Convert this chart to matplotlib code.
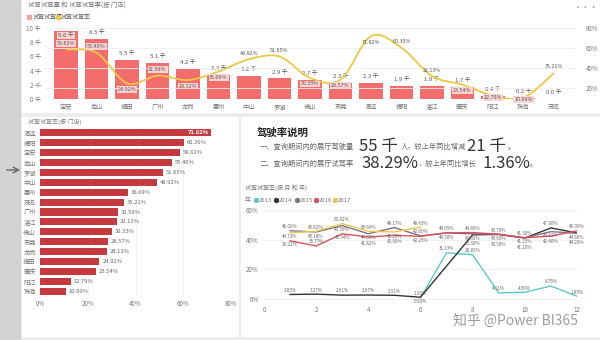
import matplotlib
matplotlib.use("Agg")
import matplotlib.pyplot as plt
from matplotlib.path import Path
from matplotlib.patches import PathPatch, Rectangle

plt.rcParams['font.family'] = ['Noto Sans CJK SC', 'DejaVu Sans']

# ---- data ----
stores = ['宝安', '南山', '福田', '广州', '龙岗', '惠州', '中山', '罗湖', '佛山',
          '东莞', '清远', '揭阳', '湛江', '肇庆', '阳江', '珠海', '茂名']
drive_volume = [9.6, 8.5, 5.5, 5.1, 4.2, 3.4, 3.2, 2.9, 2.7, 2.3, 2.3, 1.9, 1.8, 1.7, 0.4, 0.2, 0.0]
drive_rate = [58.62, 55.40, 24.92, 32.59, 28.12, 36.69, 48.92, 51.65, 30.33,
              28.57, 71.82, 60.30, 32.13, 23.54, 12.79, 10.69, 35.21]

months = list(range(1, 13))
rate_2013 = [None, None, None, None, None, 0.9, 31.13, 29.85, 4.11, 4.56, 8.75, 1.85]
rate_2014 = [3.05, 3.27, 2.61, 2.67, 2.51, 1.20, None, 43.30, 43.50, 41.10, 47.90, 44.56]
rate_2015 = [46.00, 45.18, 49.50, 44.00, 48.17, 42.60, 44.50, 43.92, 43.70, 41.23, 45.41, 44.29]
rate_2016 = [39.22, 35.77, 43.94, 41.82, 42.90, 42.25, 44.65, 44.80, 43.60, 41.30, 42.40, 46.00]
rate_2017 = [44.73, 45.62, 50.82, 45.66, 45.20, 48.43, None, None, None, None, None, None]
years = ['2013', '2014', '2015', '2016', '2017']

# label side for the rate labels in the top chart (+1 above, -1 below)
rate_label_side = [1, 1, -1, 1, -1, -1, 1, 1, -1, -1, -1, 1, 1, -1, -0.3, -0.3, 1]

W, H = 600, 340
fig = plt.figure(figsize=(6, 3.4), dpi=100)
fig.patch.set_facecolor('#ECECEC')


def px(x0, y0, x1, y1):
    return [x0 / W, 1 - y1 / H, (x1 - x0) / W, (y1 - y0) / H]


# background panels
bg = fig.add_axes([0, 0, 1, 1])
bg.set_xlim(0, W)
bg.set_ylim(H, 0)
bg.axis('off')
bg.add_patch(Rectangle((0, 0), 20, H, color='#D2D2D2'))
bg.add_patch(Rectangle((22, 0), 578, 112, color='white'))
bg.add_patch(Rectangle((22, 117), 216, 219, color='white'))
bg.add_patch(Rectangle((241, 117), 359, 219, color='white'))
bg.annotate('', xy=(23, 170), xytext=(4, 170),
            arrowprops=dict(arrowstyle='->', color='#666666', lw=1.0))

grey = '#777777'
salmon = '#F36D6D'
yellow = '#EDC843'
pink_box = dict(boxstyle='square,pad=0.15', fc='#FBD3D3', ec='none')

# ---- top combo chart ----
ax = fig.add_axes(px(45, 22, 575, 99))
ax.set_facecolor('none')
x = list(range(len(stores)))
ax.bar(x, drive_volume, width=0.76, color=salmon, zorder=2)
ax.set_xlim(-0.69, len(stores) - 0.31)
ax.set_ylim(0, 10.85)
ax.set_yticks([0, 2, 4, 6, 8, 10])
ax.set_yticklabels([f'{v} 千' for v in [0, 2, 4, 6, 8, 10]])
ax.set_xticks(x)
ax.set_xticklabels(stores)
ax.tick_params(length=0, labelsize=4.5, colors=grey, pad=3)
for s in ax.spines.values():
    s.set_visible(False)
for i, v in enumerate(drive_volume):
    if v > 9:
        ax.text(i, v - 0.7, f'{v} 千', ha='center', va='center', fontsize=4.3,
                color='#555555', bbox=pink_box, zorder=5)
    else:
        ax.text(i, v + 0.9, f'{v} 千', ha='center', va='center', fontsize=4.3,
                color='#555555', zorder=5)

ax2 = ax.twinx()
ax2.set_ylim(9.3, 86.0)
ax2.set_yticks([20, 40, 60, 80])
ax2.set_yticklabels(['20%', '40%', '60%', '80%'])
ax2.tick_params(length=0, labelsize=4.5, colors=grey, pad=8)
ax2.grid(axis='y', color='#EFEFEF', lw=0.6, zorder=0)
ax2.set_axisbelow(True)
for s in ax2.spines.values():
    s.set_visible(False)


def smooth_path(xs, ys, t=1 / 6):
    verts = [(xs[0], ys[0])]
    codes = [Path.MOVETO]
    n = len(xs)
    for i in range(n - 1):
        p0 = i - 1 if i > 0 else i
        p3 = i + 2 if i + 2 < n else i + 1
        c1 = (xs[i] + (xs[i + 1] - xs[p0]) * t, ys[i] + (ys[i + 1] - ys[p0]) * t)
        c2 = (xs[i + 1] - (xs[p3] - xs[i]) * t, ys[i + 1] - (ys[p3] - ys[i]) * t)
        verts += [c1, c2, (xs[i + 1], ys[i + 1])]
        codes += [Path.CURVE4] * 3
    return Path(verts, codes)


ax2.add_patch(PathPatch(smooth_path(x, drive_rate), fill=False, ec=yellow, lw=1.3, zorder=3))
for i, r in enumerate(drive_rate):
    ly = r + rate_label_side[i] * 6
    on_bar = (ly - 9.3) / 7.07 < drive_volume[i]
    ax2.text(i, ly, f'{r:.2f}%', ha='center', va='center', fontsize=3.9,
             color='#555555', bbox=pink_box if on_bar else None, zorder=6)

# ---- bottom-left bar chart ----
order = sorted(range(len(stores)), key=lambda k: -drive_rate[k])
sorted_names = [stores[k] for k in order]
sorted_rates = [drive_rate[k] for k in order]

bx = fig.add_axes(px(40, 128, 231, 296))
bx.set_facecolor('none')
y = list(range(len(sorted_names)))
bx.barh(y, sorted_rates, height=0.72, color='#C53A3E', zorder=2)
bx.set_ylim(len(sorted_names) - 0.5, -0.5)
bx.set_xlim(0, 80)
bx.set_xticks([0, 20, 40, 60, 80])
bx.set_xticklabels(['0%', '20%', '40%', '60%', '80%'])
bx.set_yticks(y)
bx.set_yticklabels(sorted_names)
bx.tick_params(length=0, labelsize=4.5, colors=grey, pad=3)
bx.grid(axis='x', color='#EFEFEF', lw=0.6, zorder=0)
bx.set_axisbelow(True)
for s in bx.spines.values():
    s.set_visible(False)
for i, r in enumerate(sorted_rates):
    if i == 0:
        bx.text(r - 1.2, i, f'{r:.2f}%', ha='right', va='center', fontsize=4.2,
                color='white', fontweight='bold')
    else:
        bx.text(r + 1.2, i, f'{r:.2f}%', ha='left', va='center', fontsize=4.2, color='#666666')

# ---- bottom-right line chart ----
lx = fig.add_axes(px(264, 208, 577, 300))
lx.set_facecolor('none')
series = [rate_2013, rate_2014, rate_2015, rate_2016, rate_2017]
colors = ['#5CC8C6', '#333333', '#86708A', '#D9505E', '#E9C84A']
for vals, c in zip(series, colors):
    mx = [m for m, v in zip(months, vals) if v is not None]
    my = [v for v in vals if v is not None]
    lx.plot(mx, my, color=c, lw=1.0, zorder=3)

# stack the point labels of each month so they do not sit on each other
gap = 3.8
for k, m in enumerate(months):
    vals = sorted([s[k] for s in series if s[k] is not None], reverse=True)
    prev = None
    for v in vals:
        ly = v + 2.8
        if prev is not None and prev - ly < gap:
            ly = min(v - 2.8, prev - gap)
        lx.text(m, ly, f'{v:.2f}%', ha='center', va='center', fontsize=3.3,
                color='#666666', zorder=5)
        prev = ly
lx.set_xlim(0, 12)
lx.set_ylim(-0.67, 61.35)
lx.set_xticks([0, 2, 4, 6, 8, 10, 12])
lx.set_yticks([0, 20, 40, 60])
lx.set_yticklabels(['0%', '20%', '40%', '60%'])
lx.tick_params(length=0, labelsize=4.5, colors=grey, pad=4)
lx.grid(axis='y', color='#EFEFEF', lw=0.6, zorder=0)
for s in lx.spines.values():
    s.set_visible(False)

# ---- foreground texts ----
fg = fig.add_axes([0, 0, 1, 1])
fg.set_xlim(0, W)
fg.set_ylim(H, 0)
fg.axis('off')
fg.patch.set_visible(False)

fg.text(28, 6, '试驾试驾量 和 试驾试驾率(按 门店)', fontsize=4.6, color=grey, va='center')
fg.add_patch(Rectangle((27, 15), 4, 4, color='#F2A2A2'))
fg.text(33, 17, '试驾试驾量', fontsize=4.3, color='#555555', va='center')
fg.scatter([58], [17], s=9, color=yellow, zorder=5)
fg.text(61, 17, '试驾试驾率', fontsize=4.3, color='#555555', va='center')
fg.text(586, 7, '···', fontsize=6, color='#999999', va='center', ha='center')

fg.text(28, 122, '试驾试驾率(按 门店)', fontsize=4.3, color=grey, va='center')

fg.text(257, 133, '驾驶率说明', fontsize=7.5, fontweight='bold', color='#222222', va='center')
small = dict(fontsize=5.2, color='#666666', va='center')
big = dict(fontsize=12, color='#333333', va='center')
fg.text(260, 147, '一、查询期间内的展厅驾驶量', **small)
fg.text(359, 146, '55 千', **big)
fg.text(401, 147, '人，较上年同比增减', **small)
fg.text(467, 146, '21 千', **big)
fg.text(508, 147, '。', **small)
fg.text(260, 164, '二、查询期间内的展厅试驾率', **small)
fg.text(361, 163, '38.29%', **big)
fg.text(418, 164, '，较上年同比增长', **small)
fg.text(482, 163, '1.36%', **big)
fg.text(530, 164, '。', **small)

fg.text(245, 188, '试驾试驾率(按 月 和 年)', fontsize=4.3, color=grey, va='center')
fg.text(245, 200, '年', fontsize=4.3, color=grey, va='center')
legend_x = [256, 276, 297, 316, 335]
for lxp, yr, c in zip(legend_x, years, colors):
    fg.scatter([lxp], [200], s=8, color=c, zorder=5)
    fg.text(lxp + 3, 200, yr, fontsize=4.3, color=grey, va='center')

fg.text(515, 322, '知乎 @Power BI365', fontsize=10, color='#8C8C8C', alpha=0.85,
        ha='center', va='center')

fig.savefig('out.png', dpi=100)
